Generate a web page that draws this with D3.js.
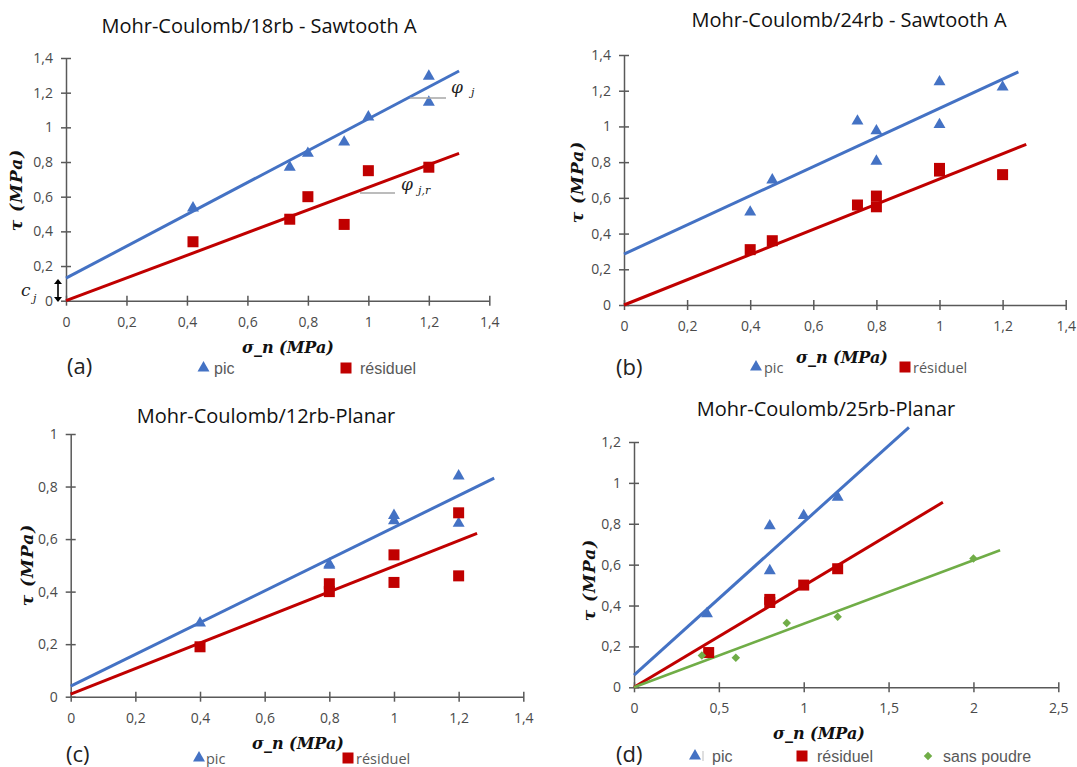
<!DOCTYPE html>
<html><head><meta charset="utf-8">
<script src="https://cdn.jsdelivr.net/npm/d3@7"></script>
<style>
html,body{margin:0;padding:0;background:#fff;}
svg{display:block;}
</style></head>
<body>
<svg id="chart" width="1077" height="767"></svg>
<script>
// ---------------- DATA ----------------
const titles = ["Mohr-Coulomb/18rb - Sawtooth A","Mohr-Coulomb/24rb - Sawtooth A","Mohr-Coulomb/12rb-Planar","Mohr-Coulomb/25rb-Planar"];
const panelLabels = ["(a)","(b)","(c)","(d)"];
const seriesNames = ["pic","résiduel","sans poudre"];
const xLabel = "σ_n (MPa)";
const yLabel = "τ (MPa)";

const xTicksAB = [0,0.2,0.4,0.6,0.8,1,1.2,1.4];
const yTicksAB = [0,0.2,0.4,0.6,0.8,1,1.2,1.4];
const xTicksC = [0,0.2,0.4,0.6,0.8,1,1.2,1.4];
const yTicksC = [0,0.2,0.4,0.6,0.8,1];
const xTicksD = [0,0.5,1,1.5,2,2.5];
const yTicksD = [0,0.2,0.4,0.6,0.8,1,1.2];

// (a) 18rb Sawtooth A
const aPicSigma = [0.42,0.74,0.80,0.92,1.00,1.20,1.20];
const aPicTau   = [0.535,0.77,0.85,0.915,1.06,1.295,1.145];
const aResSigma = [0.42,0.74,0.80,0.92,1.00,1.20];
const aResTau   = [0.34,0.47,0.60,0.44,0.75,0.77];
const aPicFit = [[0,0.13],[1.3,1.325]];
const aResFit = [[0,0],[1.3,0.85]];

// (b) 24rb Sawtooth A
const bPicSigma = [0.40,0.47,0.74,0.80,0.80,1.00,1.00,1.20];
const bPicTau   = [0.52,0.70,1.03,0.975,0.805,1.25,1.01,1.22];
const bResSigma = [0.40,0.47,0.74,0.80,0.80,1.00,1.00,1.20];
const bResTau   = [0.31,0.36,0.56,0.61,0.55,0.765,0.75,0.73];
const bPicFit = [[0,0.285],[1.25,1.305]];
const bResFit = [[0,0],[1.275,0.90]];

// (c) 12rb Planar
const cPicSigma = [0.40,0.80,0.80,1.00,1.00,1.20,1.20];
const cPicTau   = [0.28,0.505,0.50,0.69,0.67,0.84,0.66];
const cResSigma = [0.40,0.80,0.80,1.00,1.00,1.20,1.20];
const cResTau   = [0.19,0.43,0.40,0.54,0.435,0.70,0.46];
const cPicFit = [[0,0.04],[1.31,0.832]];
const cResFit = [[0,0.01],[1.257,0.622]];

// (d) 25rb Planar
const dPicSigma = [0.43,0.80,0.80,1.00,1.20];
const dPicTau   = [0.36,0.79,0.57,0.84,0.93];
const dResSigma = [0.44,0.80,0.80,1.00,1.20];
const dResTau   = [0.17,0.43,0.415,0.50,0.58];
const dSansSigma = [0.40,0.60,0.90,1.20,2.00];
const dSansTau   = [0.155,0.145,0.315,0.345,0.63];
const dPicFit = [[0,0.06],[1.62,1.272]];
const dResFit = [[0,0],[1.82,0.905]];
const dSansFit = [[0,0],[2.157,0.67]];

// ---------------- STYLE / LAYOUT ----------------
const COL = {pic:"#4472C4", res:"#C00000", sans:"#70AD47"};
const zip = (xs, ys) => xs.map((x,i)=>[x, ys[i]]);
const fmt = d => (Math.round(d*10)/10).toString().replace('.', ',');

const panels = [
  {title:titles[0], tx:259, ty:25, x0:66, x1:489.3, y0:300.7, y1:58, xDom:[0,1.4], yDom:[0,1.4], xt:xTicksAB, yt:yTicksAB,
   xlx:288, xly:347, ylx:16, yly:190, lab:panelLabels[0], labx:67, laby:365, legFont:"Liberation Sans", legSize:16,
   leg:[{k:"pic",mx:203.5,tx:214,y:368},{k:"res",mx:346,tx:360,y:368}],
   series:[{k:"pic",pts:zip(aPicSigma,aPicTau),fit:aPicFit},{k:"res",pts:zip(aResSigma,aResTau),fit:aResFit}]},
  {title:titles[1], tx:849, ty:19, x0:624, x1:1065.7, y0:305, y1:55, xDom:[0,1.4], yDom:[0,1.4], xt:xTicksAB, yt:yTicksAB,
   xlx:842, xly:357, ylx:577, yly:182, lab:panelLabels[1], labx:616, laby:366, legFont:"Open Sans", legSize:14.5,
   leg:[{k:"pic",mx:756,tx:764,y:367},{k:"res",mx:905,tx:913,y:367}],
   series:[{k:"pic",pts:zip(bPicSigma,bPicTau),fit:bPicFit},{k:"res",pts:zip(bResSigma,bResTau),fit:bResFit}]},
  {title:titles[2], tx:266, ty:415, x0:70.7, x1:523.3, y0:696.7, y1:434, xDom:[0,1.4], yDom:[0,1], xt:xTicksC, yt:yTicksC,
   xlx:298, xly:743, ylx:27, yly:565, lab:panelLabels[2], labx:66, laby:753, legFont:"Open Sans", legSize:14.5,
   leg:[{k:"pic",mx:199,tx:206,y:758},{k:"res",mx:348,tx:356,y:758}],
   series:[{k:"pic",pts:zip(cPicSigma,cPicTau),fit:cPicFit},{k:"res",pts:zip(cResSigma,cResTau),fit:cResFit}]},
  {title:titles[3], tx:826, ty:408, x0:634, x1:1058.3, y0:687.3, y1:442, xDom:[0,2.5], yDom:[0,1.2], xt:xTicksD, yt:yTicksD,
   xlx:819, xly:733, ylx:589, yly:580, lab:panelLabels[3], labx:616, laby:753, legFont:"Liberation Sans", legSize:16,
   leg:[{k:"pic",mx:695,tx:712,y:756},{k:"res",mx:802,tx:817,y:756},{k:"sans",mx:928,tx:943,y:756}],
   series:[{k:"pic",pts:zip(dPicSigma,dPicTau),fit:dPicFit},{k:"res",pts:zip(dResSigma,dResTau),fit:dResFit},{k:"sans",pts:zip(dSansSigma,dSansTau),fit:dSansFit}]}
];
const nameOf = {pic:seriesNames[0], res:seriesNames[1], sans:seriesNames[2]};

const svg = d3.select("#chart");
const AX = "#595959";

function marker(g, k, x, y, scale=1){
  if(k==="pic"){
    g.append("path").attr("d", d3.symbol(d3.symbolTriangle, 62*scale)()).attr("transform",`translate(${x},${y})`).attr("fill",COL.pic);
  } else if(k==="res"){
    const s=11*Math.sqrt(scale);
    g.append("rect").attr("x",x-s/2).attr("y",y-s/2).attr("width",s).attr("height",s).attr("fill",COL.res);
  } else {
    const s=6*Math.sqrt(scale);
    g.append("rect").attr("x",-s/2).attr("y",-s/2).attr("width",s).attr("height",s).attr("fill",COL.sans)
      .attr("transform",`translate(${x},${y}) rotate(45)`);
  }
}

panels.forEach(p=>{
  const g = svg.append("g");
  const x = d3.scaleLinear().domain(p.xDom).range([p.x0,p.x1]);
  const y = d3.scaleLinear().domain(p.yDom).range([p.y0,p.y1]);

  g.append("text").attr("x",p.tx).attr("y",p.ty).attr("text-anchor","middle").attr("dominant-baseline","central")
    .attr("font-family","Open Sans").attr("font-size",20).attr("fill","#111").text(p.title);

  const xa = g.append("g").attr("transform",`translate(0,${p.y0})`)
    .call(d3.axisBottom(x).tickValues(p.xt).tickFormat(fmt).tickSizeInner(5).tickSizeOuter(0).tickPadding(11));
  xa.selectAll(".tick line").attr("y1",-5);
  const ya = g.append("g").attr("transform",`translate(${p.x0},0)`)
    .call(d3.axisLeft(y).tickValues(p.yt).tickFormat(fmt).tickSizeInner(5).tickSizeOuter(0).tickPadding(8));
  ya.selectAll(".tick line").attr("x1",5);
  [xa,ya].forEach(a=>{
    a.select(".domain").attr("stroke",AX).attr("stroke-width",1.5);
    a.selectAll(".tick line").attr("stroke",AX).attr("stroke-width",1.5);
    a.selectAll(".tick text").attr("fill","#4a4a4a").attr("font-family","Open Sans").attr("font-size",14);
  });

  const line = d3.line().x(d=>x(d[0])).y(d=>y(d[1]));
  p.series.forEach(s=>{
    g.append("path").attr("d",line(s.fit)).attr("fill","none").attr("stroke",COL[s.k]).attr("stroke-width",s.k==="sans"?2.6:3);
  });
  p.series.forEach(s=>{
    s.pts.forEach(d=>marker(g, s.k, x(d[0]), y(d[1])));
  });

  // axis titles
  g.append("text").attr("x",p.xlx).attr("y",p.xly).attr("text-anchor","middle").attr("dominant-baseline","central")
    .attr("font-family","DejaVu Serif").attr("font-style","italic").attr("font-weight","bold").attr("font-size",16)
    .attr("fill","#111").text(xLabel);
  g.append("text").attr("transform",`translate(${p.ylx},${p.yly}) rotate(-90)`).attr("text-anchor","middle").attr("dominant-baseline","central")
    .attr("font-family","DejaVu Serif").attr("font-style","italic").attr("font-weight","bold").attr("font-size",17)
    .attr("letter-spacing",1).attr("fill","#111").text(yLabel);

  // panel label
  g.append("text").attr("x",p.labx).attr("y",p.laby).attr("dominant-baseline","central")
    .attr("font-family","Open Sans").attr("font-size",22).attr("fill","#222").text(p.lab);

  // legend
  p.leg.forEach(l=>{
    marker(g, l.k, l.mx, l.y);
    g.append("text").attr("x",l.tx).attr("y",l.y).attr("dominant-baseline","central")
      .attr("font-family",p.legFont).attr("font-size",p.legSize).attr("fill",AX).text(nameOf[l.k]);
  });
});

// stray separator in (d) legend
svg.append("line").attr("x1",703).attr("x2",703).attr("y1",751).attr("y2",761).attr("stroke","#bfbfbf").attr("stroke-width",1);

// annotations panel (a)
const ann = svg.append("g").attr("font-family","DejaVu Serif").attr("font-style","italic").attr("fill","#222");
ann.append("line").attr("x1",410).attr("x2",446).attr("y1",98).attr("y2",98).attr("stroke","#a6a6a6").attr("stroke-width",1.5);
ann.append("text").attr("x",451).attr("y",93).attr("font-size",17).text("φ");
ann.append("text").attr("x",471).attr("y",96).attr("font-size",11).text("j");
ann.append("line").attr("x1",360).attr("x2",395).attr("y1",193).attr("y2",193).attr("stroke","#a6a6a6").attr("stroke-width",1.5);
ann.append("text").attr("x",401).attr("y",190).attr("font-size",17).text("φ");
ann.append("text").attr("x",418).attr("y",194).attr("font-size",11).text("j,r");
ann.append("text").attr("x",21).attr("y",296).attr("font-size",17).text("c");
ann.append("text").attr("x",33).attr("y",302).attr("font-size",11).text("j");
// double arrow for c_j
const arr = svg.append("g").attr("fill","#000").attr("stroke","#000");
arr.append("line").attr("x1",58).attr("x2",58).attr("y1",283).attr("y2",298).attr("stroke-width",1.6);
arr.append("path").attr("d","M54,284 L58,279 L62,284 Z").attr("stroke","none");
arr.append("path").attr("d","M54,297 L58,302 L62,297 Z").attr("stroke","none");
</script>
</body></html>
